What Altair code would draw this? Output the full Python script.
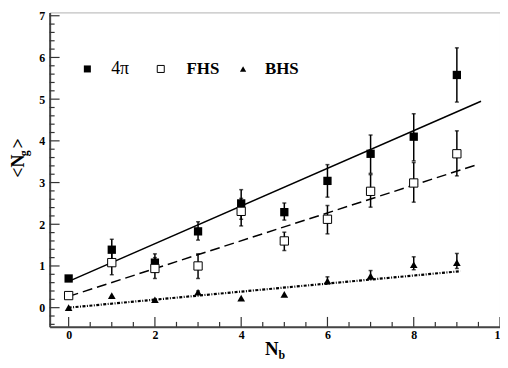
import altair as alt
import pandas as pd

SERIF = "Liberation Serif"

# ---- data ----
nb = [0, 1, 2, 3, 4, 5, 6, 7, 8, 9]

y_4pi = [0.70, 1.39, 1.08, 1.83, 2.50, 2.29, 3.04, 3.69, 4.10, 5.58]
lo_4pi = [0.64, 1.15, 0.90, 1.62, 2.12, 2.10, 2.65, 3.22, 3.52, 4.93]
hi_4pi = [0.76, 1.64, 1.29, 2.06, 2.83, 2.51, 3.43, 4.14, 4.65, 6.23]

y_fhs = [0.29, 1.08, 0.94, 1.00, 2.31, 1.60, 2.12, 2.79, 2.99, 3.69]
lo_fhs = [0.23, 0.79, 0.70, 0.70, 1.96, 1.37, 1.77, 2.41, 2.53, 3.16]
hi_fhs = [0.35, 1.36, 1.20, 1.29, 2.62, 1.81, 2.45, 3.19, 3.48, 4.24]

y_bhs = [0.00, 0.29, 0.19, 0.37, 0.23, 0.32, 0.64, 0.76, 1.03, 1.08]
lo_bhs = [0.00, 0.29, 0.19, 0.34, 0.23, 0.32, 0.57, 0.68, 0.91, 0.94]
hi_bhs = [0.00, 0.29, 0.19, 0.40, 0.23, 0.32, 0.74, 0.89, 1.22, 1.30]

fit_x_4pi = [0.0, 9.56]
fit_y_4pi = [0.63, 4.95]
fit_x_fhs = [0.0, 9.41]
fit_y_fhs = [0.27, 3.41]
fit_x_bhs = [0.0, 9.08]
fit_y_bhs = [0.00, 0.875]

legend_labels = ["4\u03c0", "FHS", "BHS"]

x_major = [0, 2, 4, 6, 8, 10]
x_minor = [v / 2 for v in range(1, 20) if v % 4 != 0]
y_major = [0, 1, 2, 3, 4, 5, 6, 7]
y_minor = [round(i * 0.2, 1) for i in range(-2, 36) if i % 5 != 0]

W, H = 454, 317

xscale = alt.Scale(domain=[-0.44, 10], nice=False, zero=False)
yscale = alt.Scale(domain=[-0.46, 7.08], nice=False, zero=False)

xaxis = alt.Axis(values=x_major, title="", labelFont=SERIF, labelFontWeight="bold",
                 labelFontSize=12, labelColor="black", ticks=False, domainColor="#444",
                 domainWidth=2, grid=False, labelPadding=3, labelFlush=False)
yaxis = alt.Axis(values=y_major, title="", labelFont=SERIF, labelFontWeight="bold",
                 labelFontSize=12, labelColor="black", ticks=False, domainColor="#444",
                 domainWidth=2, grid=False, labelPadding=5, labelFlush=False)


def X(field="x"):
    return alt.X(f"{field}:Q", scale=xscale, axis=xaxis)


def Y(field="y"):
    return alt.Y(f"{field}:Q", scale=yscale, axis=yaxis)


layers = []

# inward ticks
layers.append(alt.Chart(pd.DataFrame({"x": x_major})).mark_rule(color="#333", strokeWidth=1.2).encode(
    x=X(), y=alt.value(H), y2=alt.value(H - 10)))
layers.append(alt.Chart(pd.DataFrame({"x": x_minor})).mark_rule(color="#333", strokeWidth=1.2).encode(
    x=X(), y=alt.value(H), y2=alt.value(H - 5)))
layers.append(alt.Chart(pd.DataFrame({"y": y_major})).mark_rule(color="#333", strokeWidth=1.2).encode(
    y=Y(), x=alt.value(0), x2=alt.value(10)))
layers.append(alt.Chart(pd.DataFrame({"y": y_minor})).mark_rule(color="#333", strokeWidth=1.2).encode(
    y=Y(), x=alt.value(0), x2=alt.value(5)))

# fit lines
layers.append(alt.Chart(pd.DataFrame({"x": fit_x_4pi, "y": fit_y_4pi})).mark_line(
    color="black", strokeWidth=1.5).encode(x=X(), y=Y()))
layers.append(alt.Chart(pd.DataFrame({"x": fit_x_fhs, "y": fit_y_fhs})).mark_line(
    color="black", strokeWidth=1.5, strokeDash=[10, 5]).encode(x=X(), y=Y()))
layers.append(alt.Chart(pd.DataFrame({"x": fit_x_bhs, "y": fit_y_bhs})).mark_line(
    color="black", strokeWidth=2.2, strokeDash=[3, 1.5, 1, 1.5]).encode(x=X(), y=Y()))

# error bars
for ys, lo, hi in [(y_4pi, lo_4pi, hi_4pi), (y_fhs, lo_fhs, hi_fhs), (y_bhs, lo_bhs, hi_bhs)]:
    df = pd.DataFrame({"x": nb, "y": ys, "lo": lo, "hi": hi})
    df = df[df["hi"] > df["lo"]]
    layers.append(alt.Chart(df).mark_rule(color="black", strokeWidth=1.5).encode(
        x=X(), y=Y("lo"), y2="hi:Q"))
    layers.append(alt.Chart(df).mark_tick(color="black", orient="horizontal", size=4, thickness=1.5).encode(
        x=X(), y=Y("lo")))
    layers.append(alt.Chart(df).mark_tick(color="black", orient="horizontal", size=4, thickness=1.5).encode(
        x=X(), y=Y("hi")))

# points
layers.append(alt.Chart(pd.DataFrame({"x": nb, "y": y_4pi})).mark_point(
    shape="square", filled=True, color="black", size=70, opacity=1).encode(x=X(), y=Y()))
layers.append(alt.Chart(pd.DataFrame({"x": nb, "y": y_fhs})).mark_point(
    shape="square", fill="white", stroke="black", strokeWidth=1, size=70, opacity=1,
    fillOpacity=1).encode(x=X(), y=Y()))
layers.append(alt.Chart(pd.DataFrame({"x": nb, "y": y_bhs})).mark_point(
    shape="triangle-up", filled=True, color="black", size=60, opacity=1).encode(x=X(), y=Y()))

# legend (manual)
one = pd.DataFrame({"a": [0]})
LY = 57
layers.append(alt.Chart(one).mark_point(shape="square", filled=True, color="black", size=50, opacity=1)
              .encode(x=alt.value(38), y=alt.value(LY)))
layers.append(alt.Chart(one).mark_point(shape="square", fill="white", stroke="black", strokeWidth=1,
                                        size=50, opacity=1, fillOpacity=1)
              .encode(x=alt.value(112), y=alt.value(LY)))
layers.append(alt.Chart(one).mark_point(shape="triangle-up", filled=True, color="black", size=40, opacity=1)
              .encode(x=alt.value(195), y=alt.value(LY)))
for lbl, px, wt, fs in zip(legend_labels, [62, 138, 217], ["normal", "bold", "bold"], [18, 17, 17]):
    layers.append(alt.Chart(pd.DataFrame({"t": [lbl]})).mark_text(
        font=SERIF, fontSize=fs, fontWeight=wt, align="left", baseline="middle", color="black")
        .encode(x=alt.value(px), y=alt.value(LY), text="t:N"))

# axis titles (with subscripts)
title_parts = [
    ("N", 224, 339, 19, 0),
    ("b", 234, 345, 12, 0),
    ("<N", -31, 155, 18, 270),
    ("g", -26, 142, 12, 270),
    (">", -31, 132, 18, 270),
]
for txt, px, py, fs, ang in title_parts:
    layers.append(alt.Chart(pd.DataFrame({"t": [txt]})).mark_text(
        font=SERIF, fontSize=fs, fontWeight="bold", align="center", baseline="middle",
        color="black", angle=ang)
        .encode(x=alt.value(px), y=alt.value(py), text="t:N"))

chart = alt.layer(*layers).properties(
    width=W, height=H,
    padding={"left": 42, "top": 3, "right": 0, "bottom": 36},
    autosize=alt.AutoSizeParams(type="none"),
).configure_view(stroke="#b0b0b0", strokeWidth=1)

chart.save("out.html", embed_options={"renderer": "svg", "actions": False})
